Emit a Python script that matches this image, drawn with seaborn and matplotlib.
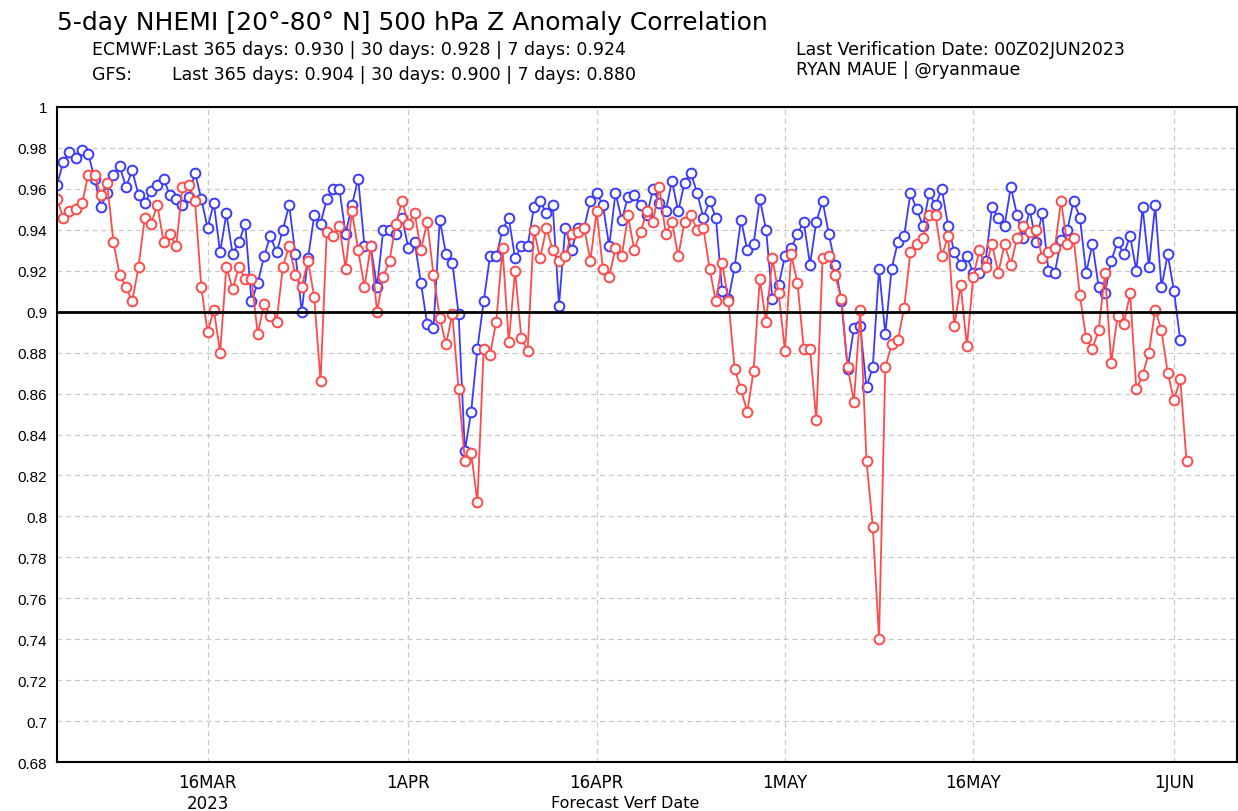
import numpy as np
import pandas as pd
import seaborn as sns
import matplotlib.pyplot as plt
from matplotlib.ticker import FuncFormatter

# twice-daily verification times (00Z / 12Z)
start_time = '2023-03-04 00:00'

ecmwf_acc = [
    0.962, 0.973, 0.978, 0.975, 0.979, 0.977, 0.965, 0.951, 0.958, 0.967,
    0.971, 0.961, 0.969, 0.957, 0.953, 0.959, 0.962, 0.965, 0.957, 0.955,
    0.952, 0.956, 0.968, 0.955, 0.941, 0.953, 0.929, 0.948, 0.928, 0.934,
    0.943, 0.905, 0.914, 0.927, 0.937, 0.929, 0.940, 0.952, 0.928, 0.900,
    0.926, 0.947, 0.943, 0.955, 0.960, 0.960, 0.938, 0.952, 0.965, 0.932,
    0.932, 0.912, 0.940, 0.940, 0.938, 0.946, 0.931, 0.934, 0.914, 0.894,
    0.892, 0.945, 0.928, 0.924, 0.899, 0.832, 0.851, 0.882, 0.905, 0.927,
    0.927, 0.940, 0.946, 0.926, 0.932, 0.932, 0.951, 0.954, 0.948, 0.952,
    0.903, 0.941, 0.930, 0.941, 0.941, 0.954, 0.958, 0.952, 0.932, 0.958,
    0.945, 0.956, 0.957, 0.952, 0.947, 0.960, 0.953, 0.949, 0.964, 0.949,
    0.963, 0.968, 0.958, 0.946, 0.954, 0.946, 0.910, 0.906, 0.922, 0.945,
    0.930, 0.933, 0.955, 0.940, 0.906, 0.913, 0.927, 0.931, 0.938, 0.944,
    0.923, 0.944, 0.954, 0.938, 0.923, 0.905, 0.872, 0.892, 0.893, 0.863,
    0.873, 0.921, 0.889, 0.921, 0.934, 0.937, 0.958, 0.950, 0.942, 0.958,
    0.952, 0.960, 0.942, 0.929, 0.923, 0.927, 0.919, 0.919, 0.925, 0.951,
    0.946, 0.942, 0.961, 0.947, 0.936, 0.950, 0.934, 0.948, 0.920, 0.919,
    0.935, 0.940, 0.954, 0.946, 0.919, 0.933, 0.912, 0.909, 0.925, 0.934,
    0.928, 0.937, 0.920, 0.951, 0.922, 0.952, 0.912, 0.928, 0.910, 0.886,
]

gfs_acc = [
    0.955, 0.946, 0.949, 0.950, 0.953, 0.967, 0.967, 0.957, 0.963, 0.934,
    0.918, 0.912, 0.905, 0.922, 0.946, 0.943, 0.952, 0.934, 0.938, 0.932,
    0.961, 0.962, 0.954, 0.912, 0.890, 0.901, 0.880, 0.922, 0.911, 0.922,
    0.916, 0.916, 0.889, 0.904, 0.898, 0.895, 0.922, 0.932, 0.918, 0.912,
    0.925, 0.907, 0.866, 0.939, 0.937, 0.942, 0.921, 0.949, 0.930, 0.912,
    0.932, 0.900, 0.917, 0.925, 0.943, 0.954, 0.943, 0.948, 0.930, 0.944,
    0.918, 0.897, 0.884, 0.899, 0.862, 0.827, 0.831, 0.807, 0.882, 0.879,
    0.895, 0.931, 0.885, 0.920, 0.887, 0.881, 0.940, 0.926, 0.941, 0.930,
    0.925, 0.927, 0.938, 0.939, 0.941, 0.925, 0.949, 0.921, 0.917, 0.931,
    0.927, 0.947, 0.930, 0.939, 0.949, 0.944, 0.961, 0.938, 0.944, 0.927,
    0.944, 0.947, 0.940, 0.941, 0.921, 0.905, 0.924, 0.905, 0.872, 0.862,
    0.851, 0.871, 0.916, 0.895, 0.926, 0.909, 0.881, 0.928, 0.914, 0.882,
    0.882, 0.847, 0.926, 0.927, 0.918, 0.906, 0.873, 0.856, 0.901, 0.827,
    0.795, 0.740, 0.873, 0.884, 0.886, 0.902, 0.929, 0.933, 0.936, 0.947,
    0.947, 0.927, 0.937, 0.893, 0.913, 0.883, 0.917, 0.930, 0.922, 0.933,
    0.919, 0.933, 0.923, 0.936, 0.942, 0.939, 0.940, 0.926, 0.929, 0.931,
    0.954, 0.933, 0.936, 0.908, 0.887, 0.882, 0.891, 0.919, 0.875, 0.898,
    0.894, 0.909, 0.862, 0.869, 0.880, 0.901, 0.891, 0.870, 0.857, 0.867,
    0.827,
]

tick_dates = ['2023-03-16', '2023-04-01', '2023-04-16', '2023-05-01', '2023-05-16', '2023-06-01']
tick_labels = ['16MAR\n2023', '1APR', '16APR', '1MAY', '16MAY', '1JUN']

ecmwf = pd.DataFrame({'time': pd.date_range(start_time, periods=len(ecmwf_acc), freq='12h'),
                      'acc': ecmwf_acc})
gfs = pd.DataFrame({'time': pd.date_range(start_time, periods=len(gfs_acc), freq='12h'),
                    'acc': gfs_acc})

sns.set_style('white')
plt.rcParams['font.family'] = ['Liberation Sans', 'DejaVu Sans']
plt.rcParams['text.color'] = 'black'
plt.rcParams['xtick.color'] = 'black'
plt.rcParams['ytick.color'] = 'black'

fig = plt.figure(figsize=(12.38, 8.12), dpi=100)
ax = fig.add_axes([0.046, 0.0603, 0.953, 0.8067])

blue = '#3a3aff'
red = '#ff4a4a'
sns.lineplot(data=ecmwf, x='time', y='acc', ax=ax, color=blue, lw=1.3,
             marker='o', markersize=7, markerfacecolor='white',
             markeredgecolor=blue, markeredgewidth=1.4)
sns.lineplot(data=gfs, x='time', y='acc', ax=ax, color=red, lw=1.3,
             marker='o', markersize=7, markerfacecolor='white',
             markeredgecolor=red, markeredgewidth=1.4)

ax.axhline(0.9, color='black', lw=2, zorder=3)

ax.set_ylim(0.68, 1.0)
ax.set_xlim(pd.Timestamp('2023-03-04 00:00'), pd.Timestamp('2023-06-06 00:00'))
ax.set_yticks(np.arange(0.68, 1.0001, 0.02))
ax.yaxis.set_major_formatter(FuncFormatter(lambda v, p: '%g' % round(v, 2)))
ax.set_xticks(pd.to_datetime(tick_dates))
ax.set_xticklabels(tick_labels, family='DejaVu Sans')

ax.grid(True, axis='both', color='#c8c8c8', ls=(0, (4, 3)), lw=0.9)
ax.set_axisbelow(True)
for s in ax.spines.values():
    s.set_color('black')
    s.set_linewidth(1.5)
ax.tick_params(axis='y', length=5, width=1.2, labelsize=11, pad=2)
ax.tick_params(axis='x', length=0, labelsize=12, pad=8)
ax.set_xlabel('')
ax.set_ylabel('')
fig.text(0.505, 0.011, 'Forecast Verf Date', fontsize=11.5, ha='center', va='center',
         family='DejaVu Sans')

hdr = dict(family='DejaVu Sans', fontsize=12.5)
fig.text(0.046, 0.963, '5-day NHEMI [20°-80° N] 500 hPa Z Anomaly Correlation',
         family='DejaVu Sans', fontsize=18)
fig.text(0.074, 0.932, 'ECMWF:Last 365 days: 0.930 | 30 days: 0.928 | 7 days: 0.924', **hdr)
fig.text(0.074, 0.902, 'GFS:', **hdr)
fig.text(0.139, 0.902, 'Last 365 days: 0.904 | 30 days: 0.900 | 7 days: 0.880', **hdr)
fig.text(0.643, 0.932, 'Last Verification Date: 00Z02JUN2023', **hdr)
fig.text(0.643, 0.908, 'RYAN MAUE | @ryanmaue', **hdr)

fig.savefig('out.png', dpi=100)
